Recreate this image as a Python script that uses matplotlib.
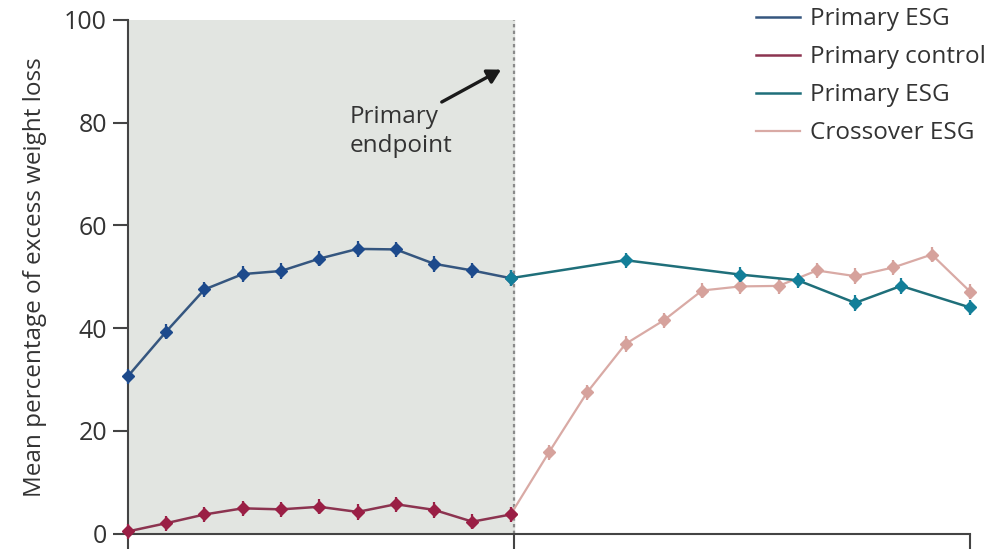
import numpy as np
import matplotlib.pyplot as plt

plt.rcParams['font.family'] = ['Open Sans', 'DejaVu Sans']

# visit positions (evenly spaced visits, primary phase then crossover phase)
x_primary = [0, 1, 2, 3, 4, 5, 6, 7, 8, 9, 10]
esg_primary = [30.6, 39.3, 47.5, 50.5, 51.1, 53.5, 55.4, 55.3, 52.5, 51.2, 49.7]
control_primary = [0.4, 2.0, 3.7, 4.9, 4.7, 5.2, 4.2, 5.7, 4.6, 2.3, 3.7]

x_esg_cont = [10, 13, 16, 17.5, 19, 20.2, 22]
esg_cont = [49.7, 53.2, 50.4, 49.3, 44.9, 48.2, 44.0]

x_cross = [10, 11, 12, 13, 14, 15, 16, 17, 18, 19, 20, 21, 22]
cross_esg = [3.7, 15.8, 27.5, 36.9, 41.5, 47.3, 48.1, 48.2, 51.2, 50.1, 51.8, 54.3, 47.1]

err = 1.5
endpoint = 10.1

fig = plt.figure(figsize=(9.99, 5.5), dpi=100)
ax = fig.add_axes([0.128, 0.03, 0.843, 0.934])

ax.axvspan(0, endpoint, color='#e2e5e1', zorder=0)
ax.axvline(endpoint, color='#8a8a8a', lw=1.6, ls=(0, (1.5, 1.5)), zorder=1)

def series(x, y, line_c, mark_c, lw, label, z):
    ax.plot(x, y, color=line_c, lw=lw, zorder=z, label=label, clip_on=False)
    ax.errorbar(x, y, yerr=err, fmt='D', ms=6.5, color=mark_c, ecolor=mark_c,
                elinewidth=1.6, capsize=0, zorder=z + 0.5, clip_on=False)

series(x_cross, cross_esg, '#d9aaa5', '#d6a29c', 1.6, 'Crossover ESG', 2)
series(x_primary, esg_primary, '#35567f', '#1d4a8c', 1.8, 'Primary ESG', 3)
series(x_primary, control_primary, '#8c3450', '#9a1f45', 1.8, 'Primary control', 3)
series(x_esg_cont, esg_cont, '#1f6f7a', '#137f99', 1.8, 'Primary ESG ', 3)

# endpoint label with arrow pointing at the end of the primary phase
ax.text(5.8, 78.3, 'Primary\nendpoint', fontsize=17.5, color='#333333',
        ha='left', va='center', linespacing=1.25)
ax.annotate('', xy=(9.75, 90.3), xytext=(8.2, 84.0),
            arrowprops=dict(arrowstyle='-|>,head_width=0.45,head_length=0.8',
                            color='#1a1a1a', lw=2.4, shrinkA=0, shrinkB=0))

ax.set_xlim(0, 22)
ax.set_ylim(0, 100)
ax.set_yticks([0, 20, 40, 60, 80, 100])
ax.set_xticks([0, endpoint, 22])
ax.set_xticklabels([])
ax.tick_params(axis='both', direction='out', length=11, width=1.5, color='#444444',
               labelsize=18, labelcolor='#333333', pad=4)
ax.set_ylabel('Mean percentage of excess weight loss', fontsize=17.5, color='#333333', labelpad=12)
for s in ['top', 'right']:
    ax.spines[s].set_visible(False)
for s in ['left', 'bottom']:
    ax.spines[s].set_color('#444444')
    ax.spines[s].set_linewidth(1.5)

handles, labels = ax.get_legend_handles_labels()
order = [1, 2, 3, 0]
leg = fig.legend([handles[i] for i in order],
                 ['Primary ESG', 'Primary control', 'Primary ESG', 'Crossover ESG'],
                 loc='upper left', bbox_to_anchor=(0.757, 0.987), frameon=False, fontsize=17.5,
                 handlelength=1.8, handletextpad=0.4, labelspacing=0.58,
                 borderpad=0, borderaxespad=0)
for t in leg.get_texts():
    t.set_color('#333333')

fig.savefig('out.png', dpi=100)
